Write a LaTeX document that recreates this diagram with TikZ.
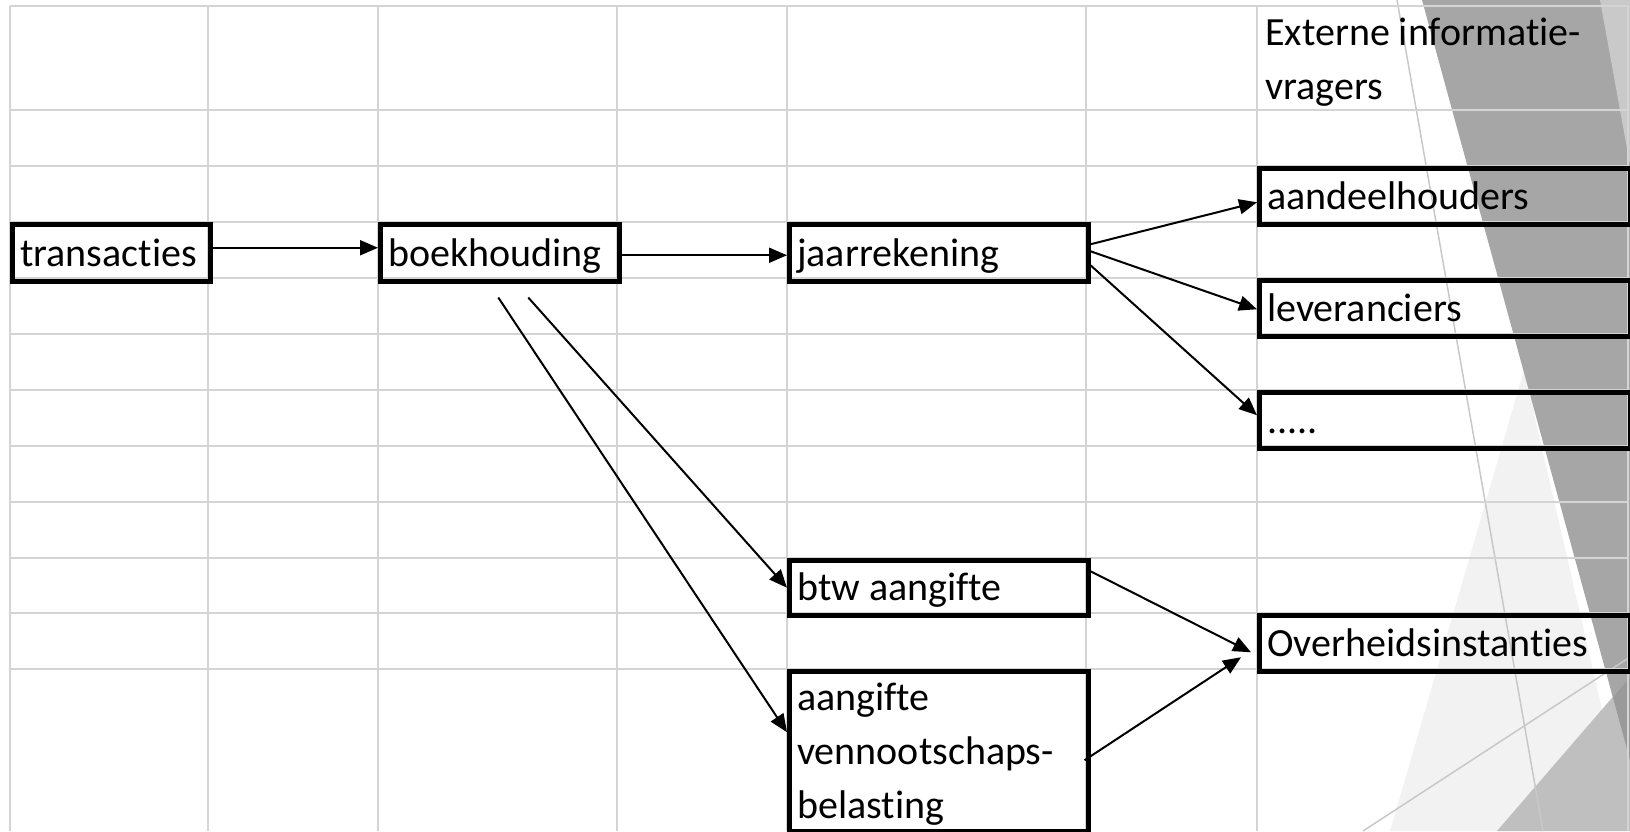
\documentclass[tikz,border=0pt]{standalone}
\usepackage{fontspec}
\setmainfont[Ligatures={NoCommon}]{Carlito}
\usetikzlibrary{arrows.meta}
\definecolor{gridc}{RGB}{212,212,212}
\definecolor{darkg}{RGB}{166,166,166}
\definecolor{midg}{RGB}{191,191,191}
\definecolor{overg}{RGB}{154,154,154}
\definecolor{lightg}{RGB}{242,242,242}
\definecolor{topg}{RGB}{201,201,201}
\definecolor{thing}{RGB}{200,200,200}
\begin{document}
\begin{tikzpicture}[x=1pt,y=-1pt,
  font=\fontsize{40}{54}\selectfont,
  gridline/.style={draw=gridc,line width=2.5pt},
  cellbox/.style={draw=black,line width=4.5pt,anchor=north west,inner xsep=8pt,inner ysep=0pt,align=flush left,text depth=15pt},
  arr/.style={line width=2pt,-{Triangle[length=18pt,width=15pt]}},
  thinline/.style={draw=thing,line width=1.5pt}]
\useasboundingbox (0,0) rectangle (1630,831);
% background decoration
\fill[lightg] (1390,831) -- (1524,370) -- (1630,831) -- cycle;
\fill[darkg] (1422,0) -- (1630,0) -- (1630,760) -- cycle;
\fill[topg] (1600,0) -- (1630,0) -- (1630,165) -- cycle;
\fill[midg] (1497,831) -- (1630,677) -- (1630,831) -- cycle;
\fill[overg] (1630,677) -- (1612.8,697) -- (1630,760) -- cycle;
\draw[thinline] (1397,0) -- (1543,831);
\draw[thinline] (1363,831) -- (1630,657);
% grid
\foreach \x in {10,208,378,617,787,1086,1257,1628}
  \draw[gridline] (\x,6) -- (\x,831);
\foreach \y in {6,110,166,222,278,334,390,446,502,558,613,669}
  \draw[gridline] (10,\y) -- (1628,\y);
% header
\node[anchor=base west,inner sep=0pt,text width=360pt,align=flush left] (hdr) at (1265,45) {Externe informatie-\\vragers};
% boxes
\node[cellbox,text width=182pt,text height=42pt] (trans) at (10,222) {transacties};
\node[cellbox,text width=223pt,text height=42pt] (boek) at (378,222) {boekhouding};
\node[cellbox,text width=283pt,text height=42pt] (jaar) at (787,222) {jaarrekening};
\node[cellbox,text width=355pt,text height=41pt] (aand) at (1257,166) {aandeelhouders};
\node[cellbox,text width=355pt,text height=41pt] (lev) at (1257,278) {leveranciers};
\node[cellbox,text width=355pt,text height=41pt] (dots) at (1257,390) {.....};
\node[cellbox,text width=283pt,text height=40pt] (btw) at (787,558) {btw aangifte};
\node[cellbox,text width=355pt,text height=41pt] (overh) at (1257,613) {Overheidsinstanties};
\node[cellbox,text width=283pt,text height=39pt,text depth=121pt] (avb) at (787,669) {aangifte\\vennootschaps-\\belasting};
% connectors
\draw[arr] ([yshift=5pt]trans.east) -- ([yshift=5pt]trans.east -| boek.west);
\draw[arr] ([yshift=-2.5pt]boek.east) -- ([yshift=-2.5pt]boek.east -| jaar.west);
\draw[arr] ([yshift=8.5pt]jaar.east) -- ([yshift=-6pt]aand.west);
\draw[arr] ([yshift=1.5pt]jaar.east) -- ([yshift=-1pt]lev.west);
\draw[arr] ([yshift=-12.5pt]jaar.east) -- ([yshift=5pt]dots.west);
\draw[arr] ([xshift=28.5pt,yshift=-14pt]boek.south) -- (btw.west);
\draw[arr] ([xshift=-1.5pt,yshift=-14pt]boek.south) -- ([yshift=19pt]avb.west);
\draw[arr] ([yshift=16.5pt]btw.east) -- ([xshift=-6pt,yshift=-9pt]overh.west);
\draw[arr] ([xshift=-6pt,yshift=-9pt]avb.east) -- ([xshift=-16pt,yshift=-14pt]overh.west);
\end{tikzpicture}
\end{document}
